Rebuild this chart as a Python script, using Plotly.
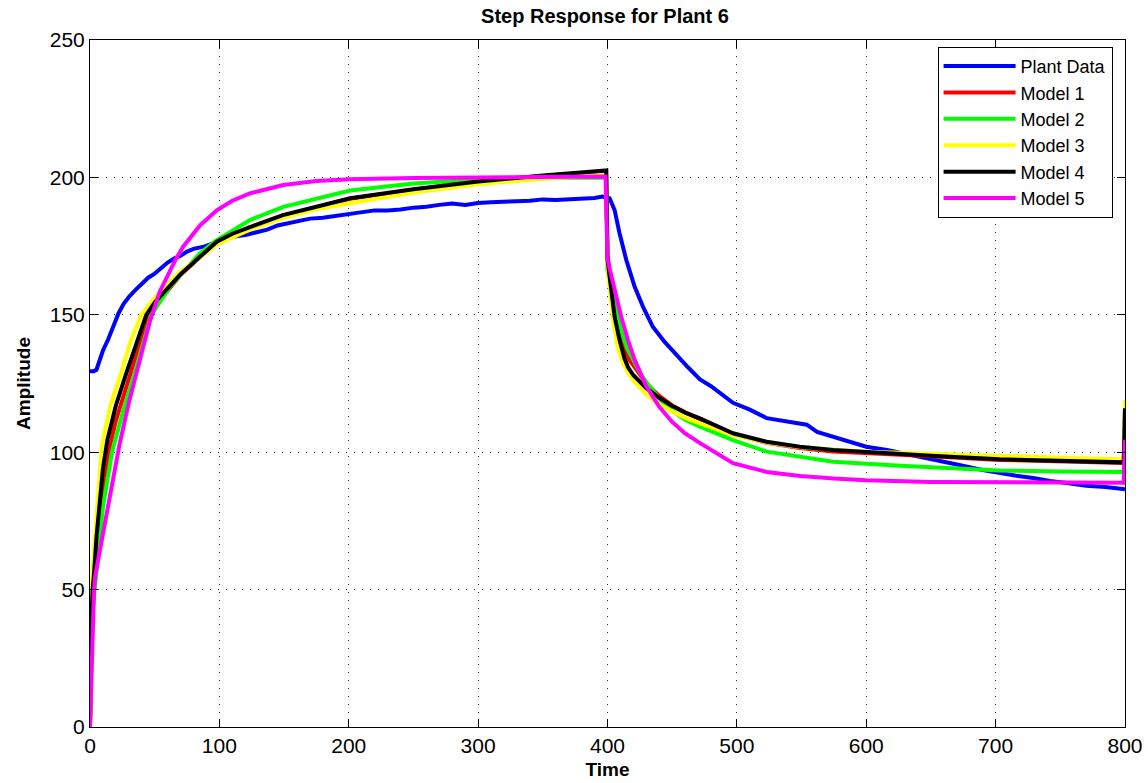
import plotly.graph_objects as go

# ---------------- data ----------------
t_plant = [0, 3, 5, 8, 10, 14, 18, 22, 26, 30, 35, 40, 45, 50, 55, 60, 65, 70, 75, 80, 88, 95, 100,
           110, 120, 130, 137, 145, 155, 162, 170, 180, 190, 201, 210, 220, 230, 240, 250, 260, 270,
           280, 290, 300, 310, 320, 330, 340, 350, 360, 370, 380, 390, 396, 401.6, 405.5, 409.3,
           414.5, 421, 427.4, 435, 444, 453, 462, 471.5, 480, 497, 510, 523, 530, 538.6, 548, 554,
           562, 575, 587, 600, 616, 630, 650, 670, 690, 703, 715, 729, 742, 755, 770, 785, 798, 800]
y_plant = [129.5, 129.5, 130, 134, 137, 141, 146, 150.5, 154, 156.5, 159, 161.5, 163.5, 165, 167, 169,
           170.5, 171.5, 173, 174, 174.8, 176, 177, 178.4, 179, 180.3, 181, 182.5, 183.5, 184.5, 185,
           185.3, 186, 186.9, 187.5, 188, 188, 188.3, 189, 189.3, 190, 190.5, 190, 190.7, 191, 191,
           191.3, 191.5, 192, 191.8, 192, 192.3, 192.5, 193, 192.4, 188.1, 179.7, 170, 160.2, 153,
           145.7, 140.2, 135.5, 131, 126.5, 124, 118, 115.5, 112.4, 111.8, 111, 110.5, 110, 107.4,
           105.5, 103.7, 102, 100.8, 99.5, 97.5, 95.5, 93.5, 92.4, 91.5, 90.6, 89.5, 88.8, 87.8,
           87.3, 86.6, 86.5]

t_m1 = [0, 0.5, 1, 2, 3, 5, 8.8, 14.4, 20, 31.4, 45.5, 60, 70, 85, 98, 123.6, 149, 175, 201, 250,
        300, 350, 399, 400, 403, 406, 410, 413, 417, 425, 430, 440, 450, 460, 471.4, 497, 523, 548.7,
        574.4, 600, 650, 703, 750, 799, 800]
y_m1 = [0, 20, 33, 46, 52, 62, 80, 100.2, 111.5, 128.7, 150, 158.8, 164.5, 171, 176.4, 181.8, 186.1,
        189.1, 192.2, 195.5, 198.3, 200.5, 202.3, 172, 160, 150, 141, 137, 133.6, 128, 125, 120.5,
        117, 114.5, 112.1, 106.6, 103.4, 101.5, 100.3, 99.6, 98.5, 97.2, 96.7, 96.1, 116]

t_m2 = [0, 0.5, 1, 2, 3.6, 6, 10, 17, 25, 34.5, 47.4, 61.8, 85, 98, 123.6, 149.4, 175, 201, 250, 300,
        350, 399, 400, 403, 406, 410, 415, 419.6, 425, 430, 440, 450, 460, 471.4, 497, 523, 548.7,
        574.4, 626, 703, 750, 799, 800]
y_m2 = [0, 15, 28, 42, 50, 62, 80, 100, 114, 128.7, 150, 160.2, 172.4, 177.2, 184.5, 189.3, 192.4,
        195.2, 197.8, 199.2, 199.8, 200, 166, 160, 153, 145, 138, 133.6, 129, 125.5, 119.5, 115,
        111.8, 109.3, 104.4, 100.2, 98.4, 96.5, 95.1, 93.3, 93, 92.8, 112]

t_m3 = [0, 0.5, 1, 1.5, 3, 5.4, 8.8, 10, 16, 24, 31, 39.7, 47, 55, 70, 85, 98, 123.6, 149, 175, 201,
        250, 300, 350, 399, 400, 402, 405, 408, 411, 415, 420, 430, 440, 450, 460, 471.4, 497, 523,
        548.7, 600, 650, 703, 750, 799, 800]
y_m3 = [0, 28, 45, 52, 64, 80, 100, 104.4, 117.5, 128.7, 140, 150, 154.5, 159, 165.8, 170.8, 175.6,
        181, 185.3, 188.4, 190.6, 194.5, 197.5, 199.5, 201, 168, 158, 146, 138, 133.6, 129.5, 126,
        121, 117.5, 114.8, 112.5, 110.5, 106.2, 103.5, 101.8, 100.2, 99.4, 98.6, 98, 97.4, 119]

t_m4 = [0, 0.5, 1, 2, 3, 5, 7, 10, 13.4, 20, 28, 35, 43.5, 50, 60, 70, 85, 98, 110, 123.6, 149, 175,
        201, 250, 300, 350, 399, 400, 403, 405.5, 409.3, 413.2, 416, 420, 430, 440, 450, 460, 471.4,
        497, 523, 548.7, 574.4, 600, 626, 650, 703, 750, 799, 800]
y_m4 = [0, 22, 38, 50, 55, 69, 80, 94, 104.4, 117, 128.7, 138.5, 150, 154.5, 159.5, 164.8, 171.1,
        176.6, 179.5, 182, 186.3, 189.3, 192.4, 195.7, 198.5, 200.7, 202.5, 170, 157.8, 149.3, 140.8,
        134, 130.8, 128, 123.3, 119.8, 116.8, 114.4, 112.3, 106.9, 103.8, 102, 100.8, 100, 99.3,
        98.7, 97.4, 96.9, 96.3, 116]

t_m5 = [0, 1, 2, 3.1, 4, 7.7, 12.6, 18, 22.9, 30, 37, 46.5, 54, 60, 66, 72, 85, 98, 110, 123.6, 149.4,
        175, 201, 250, 300, 350, 398.5, 400, 402, 405.5, 410.6, 415.8, 421, 430, 440, 450, 460, 471.5,
        497, 523, 549, 575, 600, 650, 700, 750, 799, 800]
y_m5 = [0, 20, 40, 50, 55, 64.5, 77, 92, 103, 118, 131, 148, 158.5, 164.5, 170, 174.8, 182.5, 188,
        191.5, 194.2, 197.2, 198.7, 199.3, 199.8, 200, 200.1, 200.3, 170, 166, 160.2, 149.3, 140.8,
        133.6, 124, 116.5, 111, 106.8, 103.3, 96, 92.8, 91.3, 90.4, 89.8, 89.2, 89, 88.9, 88.9, 104.5]

series_names = ["Plant Data", "Model 1", "Model 2", "Model 3", "Model 4", "Model 5"]
series_colors = ["#0000ff", "#ff0000", "#00ff00", "#ffff00", "#000000", "#ff00ff"]
series_t = [t_plant, t_m1, t_m2, t_m3, t_m4, t_m5]
series_y = [y_plant, y_m1, y_m2, y_m3, y_m4, y_m5]

x_ticks = [0, 100, 200, 300, 400, 500, 600, 700, 800]
y_ticks = [0, 50, 100, 150, 200, 250]

FONT = "Liberation Sans, Arial, Helvetica, sans-serif"

fig = go.Figure()
for name, col, tt, yy in zip(series_names, series_colors, series_t, series_y):
    fig.add_trace(go.Scatter(x=tt, y=yy, mode="lines", name=name,
                             line=dict(color=col, width=4)))

axis_common = dict(
    showline=True, linecolor="black", linewidth=1, mirror="ticks",
    ticks="inside", ticklen=8, tickcolor="black", tickwidth=1,
    showgrid=True, gridcolor="#333333", gridwidth=1, griddash="1px,7px",
    zeroline=False, automargin=False,
    tickfont=dict(size=21, color="black", family=FONT),
)

fig.update_xaxes(range=[0, 800], tickvals=x_ticks, **axis_common,
                 title=dict(text="<b>Time</b>", font=dict(size=19, color="black", family=FONT),
                            standoff=6))
fig.update_yaxes(range=[0, 250], tickvals=y_ticks, **axis_common,
                 title=dict(text="<b>Amplitude</b>", font=dict(size=19, color="black", family=FONT),
                            standoff=14))

fig.update_layout(
    width=1148, height=783,
    margin=dict(l=90, r=23, t=40, b=56),
    paper_bgcolor="white", plot_bgcolor="white",
    font=dict(family=FONT, color="black"),
    title=dict(text="<b>Step Response for Plant 6</b>", x=0.527, xanchor="center",
               y=0.979, yanchor="middle", font=dict(size=20, color="black", family=FONT)),
    legend=dict(x=0.988, y=0.99, xanchor="right", yanchor="top",
                bgcolor="white", bordercolor="black", borderwidth=1,
                font=dict(size=18, color="black", family=FONT),
                tracegroupgap=0, itemwidth=72),
    showlegend=True,
)

fig.write_html("out.html")
